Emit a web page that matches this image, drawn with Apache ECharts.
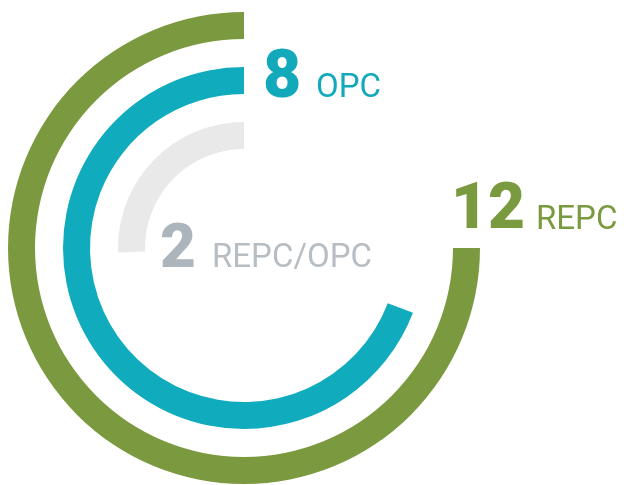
<!DOCTYPE html>
<html>
<head>
<meta charset="utf-8">
<script src="https://cdn.jsdelivr.net/npm/echarts@6/dist/echarts.min.js"></script>
<style>
  html, body { margin: 0; padding: 0; background: #fff; }
  #main { width: 624px; height: 485px; }
</style>
</head>
<body>
<div id="main"></div>
<script>
// inner ring -> outer ring
var categories = ['REPC/OPC', 'OPC', 'REPC'];
var counts = [2, 8, 12];
// arc sweep in degrees
var sweeps = [92, 249, 270];

var colors = ['#e9e9e9', '#10acbe', '#7b9a3f'];
var numColors = ['#adb5bc', '#12a9bb', '#7a9a3f'];
var unitColors = ['#b6bdc3', '#12a9bb', '#7a9a3f'];

var chart = echarts.init(document.getElementById('main'), null, { renderer: 'canvas' });

// label anchors: [number x, number y(mid), unit x, unit y(mid), number size, unit size]
var labelPos = [
    [160, 251, 212, 259, 62, 33],
    [263, 80, 316, 89, 66, 33],
    [451, 212, 536, 221, 64, 33]
];

var texts = [];
for (var i = 0; i < counts.length; i++) {
    var p = labelPos[i];
    texts.push({
        type: 'text', x: p[0], y: p[1],
        style: {
            text: String(counts[i]), fill: numColors[i],
            font: '900 ' + p[4] + 'px Roboto', verticalAlign: 'middle'
        }
    });
    texts.push({
        type: 'text', x: p[2], y: p[3],
        style: {
            text: categories[i], fill: unitColors[i],
            font: '400 ' + p[5] + 'px Roboto', verticalAlign: 'middle'
        }
    });
}

var option = {
    animation: false,
    polar: {
        center: [244, 248],
        radius: [85, 250]
    },
    angleAxis: {
        show: false,
        min: 0,
        max: 360,
        startAngle: 90,
        clockwise: false
    },
    radiusAxis: {
        show: false,
        type: 'category',
        data: categories
    },
    series: [{
        type: 'bar',
        coordinateSystem: 'polar',
        barWidth: 27,
        data: sweeps.map(function (v, i) {
            return { value: v, itemStyle: { color: colors[i] } };
        })
    }],
    graphic: texts
};
chart.setOption(option);
</script>
</body>
</html>
